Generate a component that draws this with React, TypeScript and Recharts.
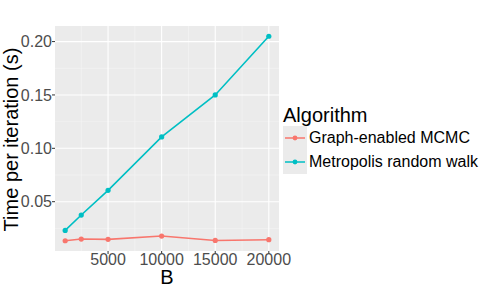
import { LineChart, Line, XAxis, YAxis, CartesianGrid, Label } from "recharts";

const bValues = [1000, 2500, 5000, 10000, 15000, 20000];
const graphMcmc = [0.0134, 0.015, 0.0147, 0.0178, 0.0137, 0.0144];
const metropolis = [0.0231, 0.0375, 0.0606, 0.1107, 0.15, 0.205];
const xTicks = [5000, 10000, 15000, 20000];
const yTicks = [0.05, 0.1, 0.15, 0.2];
const xMinor = [2500, 7500, 12500, 17500];
const yMinor = [0.025, 0.075, 0.125, 0.175];

const RED = "#F8766D";
const TEAL = "#00BFC4";
const FONT = "'Liberation Sans', Arial, sans-serif";

const data = bValues.map((b, i) => ({ b, graph: graphMcmc[i], metro: metropolis[i] }));

function LegendBox() {
  const items = [
    { name: "Graph-enabled MCMC", color: RED },
    { name: "Metropolis random walk", color: TEAL },
  ];
  return (
    <div style={{ position: "absolute", left: 283, top: 105, fontFamily: FONT, color: "#000" }}>
      <div style={{ fontSize: 20, lineHeight: "20px", marginBottom: 1 }}>Algorithm</div>
      {items.map((it) => (
        <div key={it.name} style={{ display: "flex", alignItems: "center", height: 24 }}>
          <svg width={24} height={24} style={{ background: "#EBEBEB", display: "block" }}>
            <line x1={2} x2={22} y1={12} y2={12} stroke={it.color} strokeWidth={1.5} />
            <circle cx={12} cy={12} r={2.4} fill={it.color} />
          </svg>
          <span style={{ fontSize: 16, marginLeft: 2, whiteSpace: "nowrap" }}>{it.name}</span>
        </div>
      ))}
    </div>
  );
}

export default function App() {
  return (
    <div style={{ position: "absolute", left: 0, top: 0, width: 485, height: 291, background: "#fff" }}>
      <LineChart width={485} height={291} data={data} margin={{ top: 26, right: 206, bottom: 0, left: 0 }}>
        <CartesianGrid fill="#EBEBEB" stroke="#F5F5F5" strokeWidth={0.6}
          horizontalValues={yMinor} verticalValues={xMinor} />
        <CartesianGrid fill="none" stroke="#FFFFFF" strokeWidth={1.1}
          horizontalValues={yTicks} verticalValues={xTicks} />
        <XAxis type="number" dataKey="b" domain={[50, 20950]} ticks={xTicks} allowDataOverflow
          height={40} axisLine={false} tickSize={3} tickMargin={0} tickLine={{ stroke: "#333333" }}
          tick={{ fontSize: 16, fill: "#4D4D4D", fontFamily: FONT }}>
          <Label content={({ viewBox }: any) => (
            <text x={viewBox.x + viewBox.width / 2} y={284} textAnchor="middle"
              fontSize={20} fontFamily={FONT} fill="#000">B</text>
          )} />
        </XAxis>
        <YAxis type="number" domain={[0.0038, 0.2146]} ticks={yTicks} allowDataOverflow
          width={55} axisLine={false} tickSize={3} tickMargin={0} tickLine={{ stroke: "#333333" }}
          tickFormatter={(v: number) => v.toFixed(2)}
          tick={{ fontSize: 16, fill: "#4D4D4D", fontFamily: FONT }}>
          <Label content={({ viewBox }: any) => {
            const cy = viewBox.y + viewBox.height / 2 + 1;
            return (
              <text x={17.5} y={cy} transform={`rotate(-90 17.5 ${cy})`} textAnchor="middle"
                fontSize={20} fontFamily={FONT} fill="#000">Time per iteration (s)</text>
            );
          }} />
        </YAxis>
        <Line dataKey="graph" stroke={RED} strokeWidth={1.6} isAnimationActive={false}
          dot={{ r: 2.6, fill: RED, stroke: RED, strokeWidth: 0 }} />
        <Line dataKey="metro" stroke={TEAL} strokeWidth={1.6} isAnimationActive={false}
          dot={{ r: 2.6, fill: TEAL, stroke: TEAL, strokeWidth: 0 }} />
      </LineChart>
      <LegendBox />
    </div>
  );
}
